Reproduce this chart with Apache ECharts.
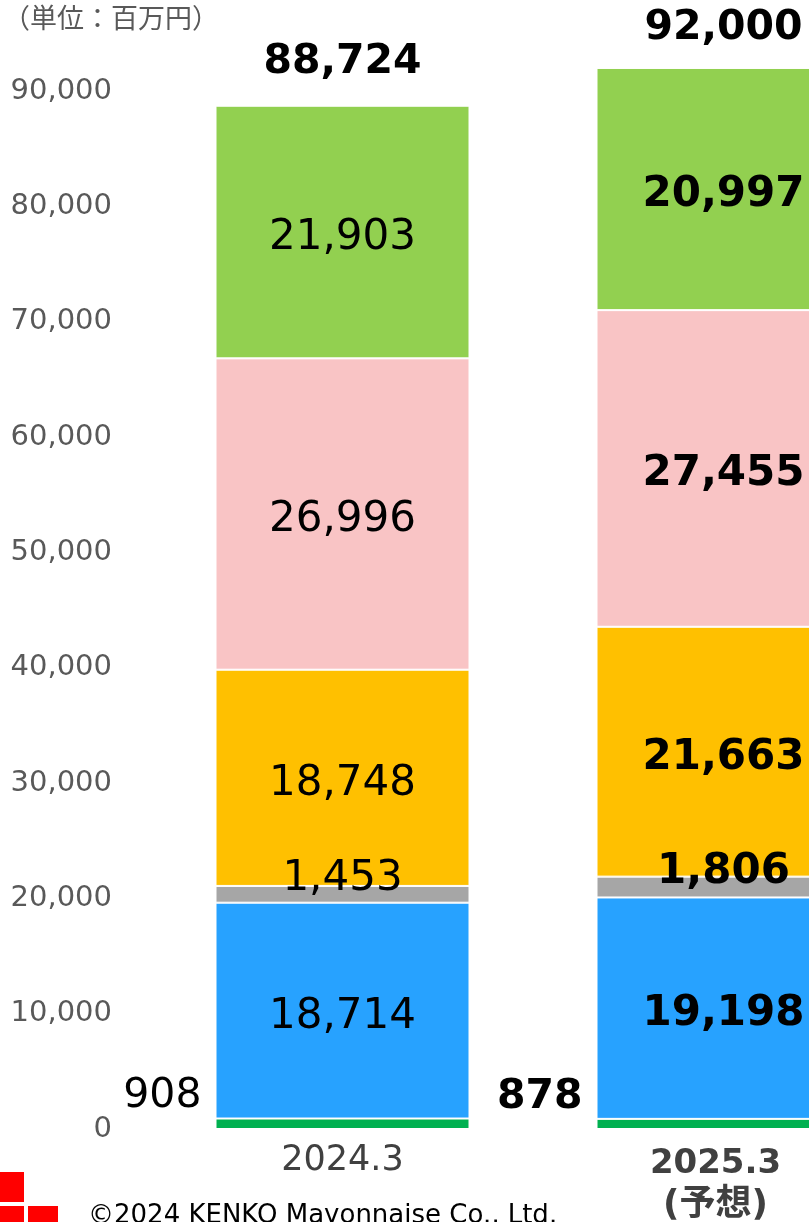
<!DOCTYPE html>
<html>
<head>
<meta charset="utf-8">
<script src="https://cdn.jsdelivr.net/npm/echarts@6/dist/echarts.min.js"></script>
<style>
  html, body { margin: 0; padding: 0; background: #fff; }
  #chart { width: 809px; height: 1222px; }
</style>
</head>
<body>
<div id="chart"></div>
<script>
// ---- data ----
const categories = ['2024.3', '2025.3'];
const bottomSeg = [908, 878];
const blueSeg = [18714, 19198];
const graySeg = [1453, 1806];
const orangeSeg = [18748, 21663];
const pinkSeg = [26996, 27455];
const greenSeg = [21903, 20997];
const totals = [88724, 92000];

const FONT = 'DejaVu Sans, "Noto Sans CJK JP", sans-serif';
const fmt = v => Number(v).toLocaleString('en-US');

const chart = echarts.init(document.getElementById('chart'));

// one stacked segment; 2nd bar labels are bold
function seg(name, values, color, label) {
  return {
    name: name,
    type: 'bar',
    stack: 'total',
    barWidth: 254,
    clip: false,
    itemStyle: { color: color, borderColor: '#fff', borderWidth: 1 },
    label: Object.assign({
      show: true,
      position: 'inside',
      offset: [0, 6],
      fontSize: 42,
      fontFamily: FONT,
      color: '#000',
      formatter: p => fmt(p.value)
    }, label || {}),
    data: values.map((v, i) => ({
      value: v,
      label: { fontWeight: i === 1 ? 'bold' : 'normal' }
    }))
  };
}

const option = {
  backgroundColor: '#fff',
  animation: false,
  textStyle: { fontFamily: FONT },
  grid: { left: 152, width: 762, top: 91, bottom: 93, outerBoundsMode: 'none', containLabel: false },
  xAxis: {
    type: 'category',
    data: categories,
    axisLine: { show: false },
    axisTick: { show: false },
    axisLabel: {
      margin: 14,
      formatter: (v, i) => i === 1 ? '{b|' + v + '}\n{c|(予想)}' : '{a|' + v + '}',
      rich: {
        a: { fontSize: 35, color: '#404040', fontFamily: FONT },
        b: { fontSize: 34, color: '#404040', fontWeight: 'bold', lineHeight: 42, fontFamily: FONT, padding: [0, 16, 0, 0] },
        c: { fontSize: 36, color: '#404040', fontWeight: 'bold', lineHeight: 42, fontFamily: FONT, padding: [0, 16, 0, 0] }
      }
    }
  },
  yAxis: {
    type: 'value',
    min: 0,
    max: 90000,
    interval: 10000,
    axisLine: { show: false },
    axisTick: { show: false },
    splitLine: { show: false },
    axisLabel: {
      margin: 40,
      fontSize: 29,
      color: '#595959',
      fontFamily: FONT,
      formatter: v => fmt(v)
    }
  },
  series: [
    seg('bottom', bottomSeg, '#00B050', { position: 'left', distance: 14, offset: [0, -27], fontSize: 41 }),
    seg('blue', blueSeg, '#27A2FF'),
    seg('gray', graySeg, '#A6A6A6', { offset: [0, -15] }),
    seg('orange', orangeSeg, '#FFC000'),
    seg('pink', pinkSeg, '#F9C4C5'),
    seg('green', greenSeg, '#92D050'),
    {
      name: 'total',
      type: 'bar',
      stack: 'total',
      barWidth: 254,
      clip: false,
      itemStyle: { color: 'transparent' },
      label: {
        show: true,
        position: 'top',
        distance: 23,
        fontSize: 41,
        fontWeight: 'bold',
        fontFamily: FONT,
        color: '#000',
        formatter: p => fmt(totals[p.dataIndex])
      },
      data: totals.map((t, i) => ({ value: 0, label: { distance: i === 1 ? 19 : 23 } }))
    }
  ],
  graphic: [
    {
      type: 'text', left: 3, top: 4,
      style: { text: '（単位：百万円）', fontSize: 27, fill: '#595959', fontFamily: '"Noto Sans CJK JP", sans-serif' }
    },
    { type: 'rect', shape: { x: -4, y: 1172, width: 28, height: 30 }, style: { fill: '#FF0000' } },
    { type: 'rect', shape: { x: -4, y: 1206, width: 28, height: 30 }, style: { fill: '#FF0000' } },
    { type: 'rect', shape: { x: 28, y: 1206, width: 30, height: 30 }, style: { fill: '#FF0000' } },
    {
      type: 'text', left: 88, top: 1203,
      style: { text: '©2024 KENKO Mayonnaise Co., Ltd.', fontSize: 26, fill: '#000', fontFamily: FONT }
    }
  ]
};

chart.setOption(option);
window.onresize = function () { chart.resize(); };
</script>
</body>
</html>
